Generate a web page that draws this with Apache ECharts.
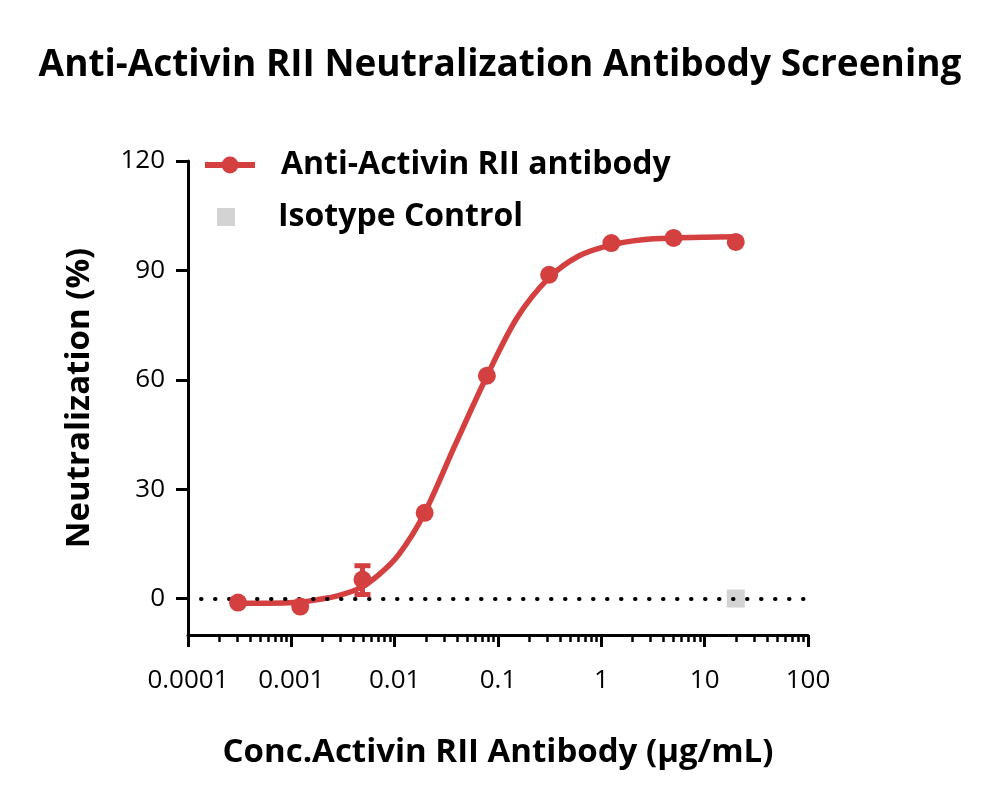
<!DOCTYPE html>
<html>
<head>
<meta charset="utf-8">
<title>Anti-Activin RII Neutralization Antibody Screening</title>
<script src="https://cdn.jsdelivr.net/npm/echarts@6/dist/echarts.min.js"></script>
<style>
html, body { margin: 0; padding: 0; background: #fff; }
#chart { width: 1000px; height: 807px; }
</style>
</head>
<body>
<div id="chart"></div>
<script>
// measured points (4-fold dilution from 20 ug/mL)
var conc = [0.000305, 0.00122, 0.00488, 0.0195, 0.0781, 0.3125, 1.25, 5, 20];
var neutral = [-1.1, -2.2, 5.2, 23.5, 61.1, 88.8, 97.5, 98.9, 97.8];

// error bar (only one visible)
var errConc = [0.00488];
var errLow = [1.1];
var errHigh = [9.0];

// fitted curve
var fitConc = [0.000305, 0.0006, 0.00117, 0.0018, 0.00286, 0.00467, 0.007, 0.0109, 0.0191, 0.0383, 0.0765, 0.153, 0.313, 0.611, 1.25, 2.5, 5, 10, 20];
var fitValue = [-1.2, -1.3, -1.0, -0.3, 0.8, 3.0, 6.5, 12, 23, 42, 60.5, 77, 88, 94, 97, 98.4, 98.9, 99.1, 99.2];

// isotype control
var isoConc = [20];
var isoValue = [0];

var xTickLabels = ['0.0001', '0.001', '0.01', '0.1', '1', '10', '100'];
var yTicks = [0, 30, 60, 90, 120];

var RED = '#d43f3f';
var GRAY = '#d3d3d3';
var FONT = 'Open Sans';

var minorTicks = [];
for (var d = -4; d < 2; d++) {
    for (var m = 2; m <= 9; m++) {
        minorTicks.push(m * Math.pow(10, d));
    }
}

var pts = conc.map(function(c, i) { return [c, neutral[i]]; });
var fit = fitConc.map(function(c, i) { return [c, fitValue[i]]; });
var iso = isoConc.map(function(c, i) { return [c, isoValue[i]]; });
var err = errConc.map(function(c, i) { return [c, errLow[i], errHigh[i]]; });

// bold black text, optional left padding
var boldText = function(size, padLeft) {
    var s = { fontFamily: FONT, fontWeight: 'bold', fontSize: size, color: '#000' };
    if (padLeft) {
        s.padding = [0, 0, 0, padLeft];
    }
    return s;
};

var myChart = echarts.init(document.getElementById('chart'));

var option = {
    backgroundColor: '#fff',
    animation: false,
    title: {
        text: 'Anti-Activin RII Neutralization Antibody Screening',
        left: 'center',
        top: 42,
        textStyle: boldText(37)
    },
    legend: [{
        data: ['Anti-Activin RII antibody'],
        left: 202,
        top: 149,
        padding: 0,
        itemWidth: 50,
        itemHeight: 21,
        selectedMode: false,
        lineStyle: { width: 6 },
        textStyle: boldText(32, 21)
    }, {
        data: [{ name: 'Isotype Control', icon: 'rect' }],
        left: 217,
        top: 201,
        padding: 0,
        itemWidth: 18,
        itemHeight: 18,
        selectedMode: false,
        textStyle: boldText(32, 38)
    }],
    grid: {
        left: 188,
        right: 192,
        top: 161,
        bottom: 172
    },
    xAxis: [{
        type: 'log',
        logBase: 10,
        min: 0.0001,
        max: 100,
        position: 'bottom',
        name: 'Conc.Activin RII Antibody (μg/mL)',
        nameLocation: 'middle',
        nameGap: 101,
        nameTextStyle: boldText(33),
        axisLine: { onZero: false, lineStyle: { color: '#000', width: 3 } },
        axisTick: { length: 12, lineStyle: { color: '#000', width: 3 } },
        axisLabel: {
            margin: 33,
            fontFamily: FONT,
            fontSize: 26,
            color: '#000',
            formatter: function(v) {
                return xTickLabels[Math.round(Math.log10(v)) + 4];
            }
        },
        splitLine: { show: false }
    }, {
        type: 'log',
        logBase: 10,
        min: 0.0001,
        max: 100,
        position: 'bottom',
        axisLine: { show: false, onZero: false },
        axisTick: { length: 7, customValues: minorTicks, lineStyle: { color: '#000', width: 2.5 } },
        axisLabel: { show: false },
        splitLine: { show: false }
    }],
    yAxis: {
        type: 'value',
        min: -10,
        max: 120,
        name: 'Neutralization (%)',
        nameLocation: 'middle',
        nameGap: 92,
        nameTextStyle: boldText(33),
        axisLine: { show: true, onZero: false, lineStyle: { color: '#000', width: 3 } },
        axisTick: { show: true, length: 12, customValues: yTicks, lineStyle: { color: '#000', width: 3 } },
        axisLabel: {
            customValues: yTicks,
            margin: 23,
            fontFamily: FONT,
            fontSize: 26,
            color: '#000'
        },
        splitLine: { show: false }
    },
    series: [{
        name: 'Isotype Control',
        type: 'scatter',
        data: iso,
        symbol: 'rect',
        symbolSize: 18,
        itemStyle: { color: GRAY, opacity: 1 },
        z: 3,
        markLine: {
            silent: true,
            symbol: 'none',
            label: { show: false },
            lineStyle: {
                color: '#000',
                width: 4,
                type: [0.5, 13.5],
                cap: 'round',
                dashOffset: -13
            },
            data: [{ yAxis: 0 }]
        }
    }, {
        name: 'Anti-Activin RII antibody',
        type: 'line',
        data: fit,
        smooth: 0.3,
        symbol: 'circle',
        showSymbol: false,
        lineStyle: { color: RED, width: 5.5 },
        itemStyle: { color: RED },
        z: 4
    }, {
        name: 'points',
        type: 'scatter',
        data: pts,
        symbol: 'circle',
        symbolSize: 18,
        itemStyle: { color: RED, opacity: 1 },
        z: 5
    }, {
        name: 'error',
        type: 'custom',
        data: err,
        encode: { x: 0, y: [1, 2] },
        z: 5,
        renderItem: function(params, api) {
            var lo = api.coord([api.value(0), api.value(1)]);
            var hi = api.coord([api.value(0), api.value(2)]);
            var half = 8;
            var style = { stroke: RED, lineWidth: 5 };
            return {
                type: 'group',
                children: [
                    { type: 'line', shape: { x1: lo[0], y1: lo[1], x2: hi[0], y2: hi[1] }, style: style },
                    { type: 'line', shape: { x1: lo[0] - half, y1: lo[1], x2: lo[0] + half, y2: lo[1] }, style: style },
                    { type: 'line', shape: { x1: hi[0] - half, y1: hi[1], x2: hi[0] + half, y2: hi[1] }, style: style }
                ]
            };
        }
    }]
};

myChart.setOption(option);
</script>
</body>
</html>
